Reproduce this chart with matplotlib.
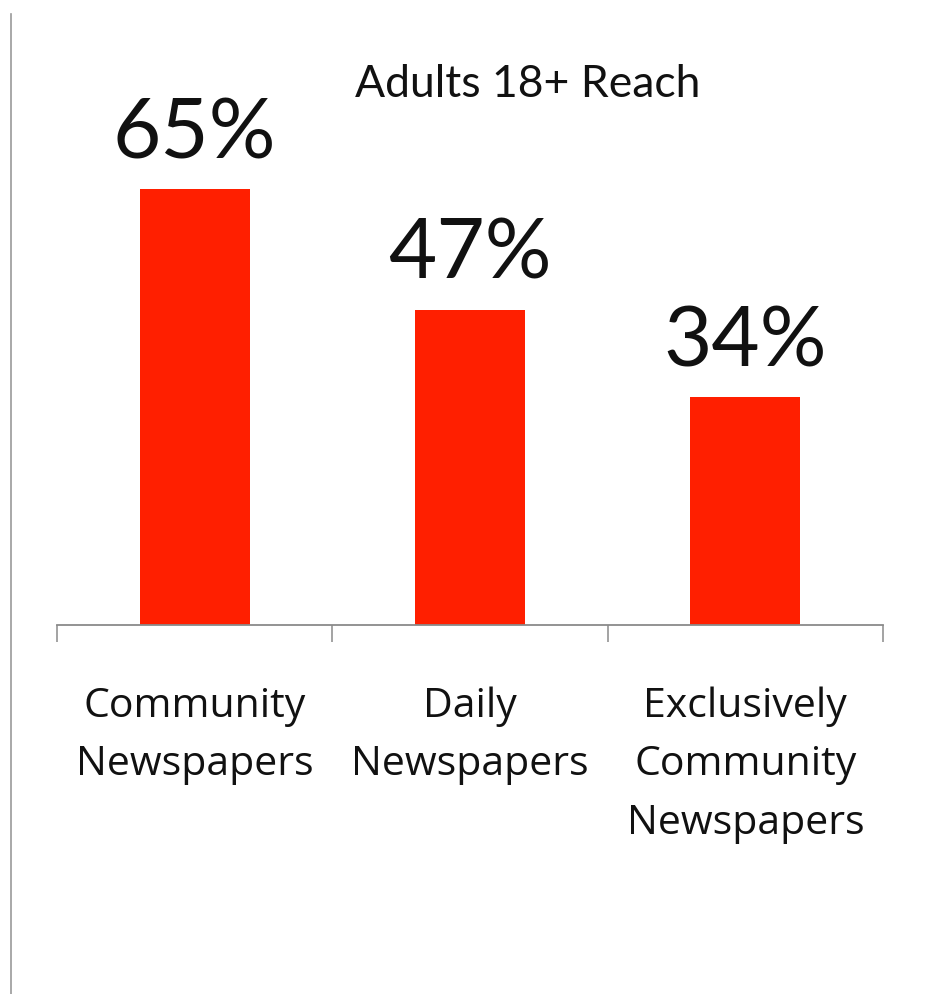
import matplotlib
matplotlib.use("Agg")
import matplotlib.pyplot as plt
from matplotlib.lines import Line2D

categories = ["Community\nNewspapers", "Daily\nNewspapers", "Exclusively\nCommunity\nNewspapers"]
reach = [65, 47, 34]
value_labels = ["65%", "47%", "34%"]
title = "Adults 18+ Reach"

fig = plt.figure(figsize=(9.39, 9.94), dpi=100)
fig.patch.set_facecolor("white")

W, H = 939, 994
ax = fig.add_axes([57 / W, (H - 625) / H, 826 / W, 537 / H])
ax.set_facecolor("none")

x = list(range(len(categories)))
bars = ax.bar(x, reach, width=0.4, color="#FF1F00", zorder=2)

ax.set_xlim(-0.5, len(categories) - 0.5)
ax.set_ylim(0, 80)

for spine in ["left", "right", "top"]:
    ax.spines[spine].set_visible(False)
ax.spines["bottom"].set_color("#8a8a8a")
ax.spines["bottom"].set_linewidth(1.3)

ax.set_yticks([])
ax.set_xticks([i - 0.5 for i in range(len(categories) + 1)])
ax.set_xticklabels([])
ax.tick_params(axis="x", which="major", length=12, width=1.1, color="#8a8a8a", direction="out")
ax.set_xticks(x, minor=True)
ax.set_xticklabels(categories, minor=True, fontsize=29.5, family="Open Sans",
                   color="#111111", linespacing=1.6)
ax.tick_params(axis="x", which="minor", length=0, pad=44)

for rect, lab in zip(bars, value_labels):
    ax.annotate(lab, (rect.get_x() + rect.get_width() / 2, rect.get_height()),
                xytext=(0, 22), textcoords="offset points", ha="center", va="baseline",
                fontsize=60, family="Lato", color="#111111")

fig.text(528 / W, 1 - 97 / H, title, ha="center", va="baseline",
         fontsize=32, family="Lato", color="#111111")

# thin frame line at the left edge
fig.add_artist(Line2D([11 / W, 11 / W], [0, 1 - 14 / H], transform=fig.transFigure,
                      color="#9a9a9a", linewidth=1.2))

fig.savefig("out.png", dpi=100, facecolor="white")
